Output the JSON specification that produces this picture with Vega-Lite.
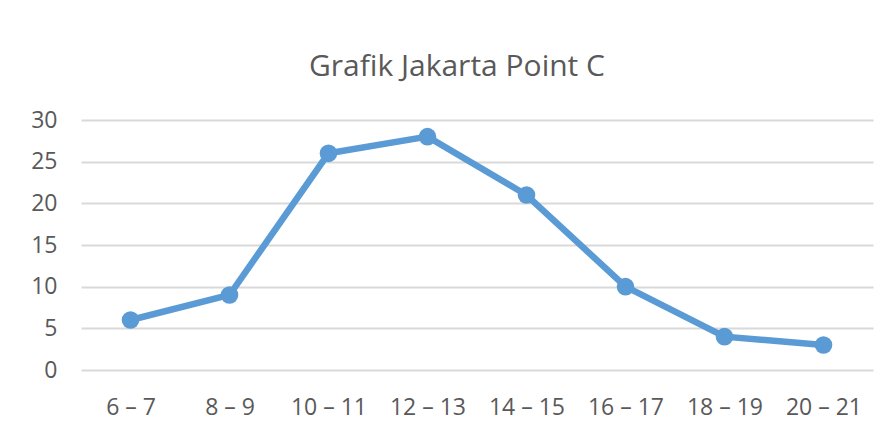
{
  "$schema": "https://vega.github.io/schema/vega-lite/v6.json",
  "width": 792,
  "height": 250,
  "autosize": {"type": "none"},
  "padding": {"left": 81, "top": 120, "right": 20, "bottom": 65},
  "background": "white",
  "title": {
    "text": "Grafik Jakarta Point C",
    "anchor": "middle",
    "dx": -20,
    "offset": 27,
    "fontSize": 30,
    "font": "Open Sans",
    "fontWeight": "normal",
    "color": "#595959"
  },
  "data": {
    "values": [
      {"jam": "6 – 7", "nilai": 6},
      {"jam": "8 – 9", "nilai": 9},
      {"jam": "10 – 11", "nilai": 26},
      {"jam": "12 – 13", "nilai": 28},
      {"jam": "14 – 15", "nilai": 21},
      {"jam": "16 – 17", "nilai": 10},
      {"jam": "18 – 19", "nilai": 4},
      {"jam": "20 – 21", "nilai": 3}
    ]
  },
  "config": {
    "view": {"stroke": null},
    "axis": {
      "labelFont": "Open Sans",
      "labelFontSize": 23,
      "labelColor": "#595959",
      "domain": false,
      "ticks": false,
      "title": null
    }
  },
  "mark": {
    "type": "line",
    "color": "#5b9bd5",
    "strokeWidth": 6.5,
    "point": {"filled": true, "size": 310, "color": "#5b9bd5"}
  },
  "encoding": {
    "x": {
      "field": "jam",
      "type": "ordinal",
      "sort": null,
      "scale": {"paddingInner": 0, "paddingOuter": 0.5},
      "axis": {"labelAngle": 0, "labelPadding": 26, "grid": false}
    },
    "y": {
      "field": "nilai",
      "type": "quantitative",
      "scale": {"domain": [0, 30]},
      "axis": {
        "values": [0, 5, 10, 15, 20, 25, 30],
        "labelPadding": 24,
        "grid": true,
        "gridColor": "#d9d9d9",
        "gridWidth": 2
      }
    }
  }
}
